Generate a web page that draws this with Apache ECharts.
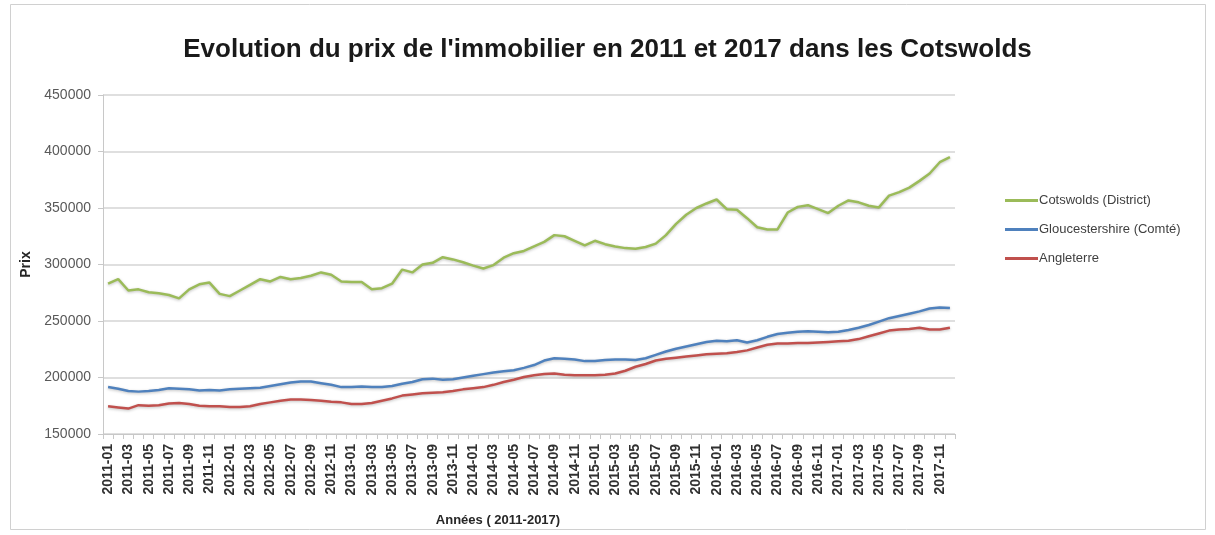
<!DOCTYPE html>
<html>
<head>
<meta charset="utf-8">
<script src="https://cdn.jsdelivr.net/npm/echarts@6/dist/echarts.min.js"></script>
<style>
  html, body { margin: 0; padding: 0; background: #ffffff; }
  #chart { width: 1215px; height: 535px; }
</style>
</head>
<body>
<div id="chart"></div>
<script>
// Monthly months 2011-01 .. 2017-12
const years = [2011, 2012, 2013, 2014, 2015, 2016, 2017];
const months = [];
years.forEach(function (y) {
  for (let m = 1; m <= 12; m++) months.push(y + '-' + (m < 10 ? '0' + m : m));
});

const cotswolds = [
  283000, 287000, 277000, 278000, 275500, 274500, 273000, 270000, 278000, 282500,
  284000, 274000, 272000, 277000, 282000, 287000, 285000, 289000, 287000, 288000,
  290000, 293000, 291000, 285000, 284500, 284500, 278000, 279000, 283000, 295500,
  293000, 300000, 301500, 306500, 304500, 302000, 299000, 296500, 299500, 306000,
  310000, 312000, 316000, 320000, 326000, 325000, 321000, 317000, 321000, 318000,
  316000, 314500, 314000, 315500, 318500, 326000, 336000, 344000, 350000, 354000,
  357500, 349000, 348500, 341000, 333000, 331000, 331000, 346000, 351000, 352500,
  349000, 345500, 352000, 356700, 355000, 352000, 350500, 361000, 364000, 368000,
  374000, 380500, 390500, 395000
];

const gloucestershire = [
  191500, 190000, 188000, 187500, 188000, 189000, 190500, 190000, 189500, 188500,
  189000, 188500, 189500, 190000, 190500, 191000, 192500, 194000, 195500, 196500,
  196500, 195000, 193500, 191500, 191500, 192000, 191500, 191500, 192500, 194500,
  196000, 198500, 199000, 198000, 198500, 200000, 201500, 203000, 204500, 205500,
  206500, 208500, 211000, 215000, 217000, 216500, 216000, 214500, 214500, 215500,
  216000, 216000, 215500, 217000, 220000, 223000, 225500, 227500, 229500, 231500,
  232500, 232000, 233000, 231000, 233000, 236000, 238500, 239500, 240500, 241000,
  240500, 240000, 240500, 242000, 244000, 246500, 249500, 252500, 254500, 256500,
  258500, 261000, 262000, 261500
];

const angleterre = [
  174500, 173500, 172500, 175500, 175000, 175500, 177000, 177500, 176500, 175000,
  174500, 174500, 174000, 174000, 174500, 176500, 178000, 179500, 180500, 180500,
  180000, 179500, 178500, 178000, 176500, 176500, 177500, 179500, 181500, 184000,
  185000, 186000, 186500, 187000, 188000, 189500, 190500, 191500, 193500, 196000,
  198000, 200500, 202000, 203000, 203500, 202500, 202000, 202000, 202000, 202500,
  203500, 206000, 209500, 212000, 215000, 216500, 217500, 218500, 219500, 220500,
  221000, 221500, 222500, 224000, 226500, 229000, 230000, 230000, 230500, 230500,
  231000, 231500, 232000, 232500, 234000, 236500, 239000, 241500, 242500, 243000,
  244000, 242500, 242500, 244000
];

const seriesNames = ['Cotswolds (District)', 'Gloucestershire (Comté)', 'Angleterre'];
const seriesColors = ['#9BBB59', '#4F81BD', '#C0504D'];
const seriesData = [cotswolds, gloucestershire, angleterre];

const chart = echarts.init(document.getElementById('chart'), null, { renderer: 'canvas' });

chart.setOption({
  backgroundColor: '#ffffff',
  animation: false,
  textStyle: { fontFamily: 'Liberation Sans, Arial, sans-serif' },
  title: {
    text: "Evolution du prix de l'immobilier en 2011 et 2017 dans les Cotswolds",
    left: 'center',
    top: 32,
    textStyle: { fontSize: 26, fontWeight: 'bold', color: '#1a1a1a', fontFamily: 'Liberation Sans, Arial, sans-serif' }
  },
  graphic: [{
    type: 'rect',
    shape: { x: 10.5, y: 4.5, width: 1195, height: 525 },
    style: { fill: 'none', stroke: '#d0d0d0', lineWidth: 1 },
    silent: true
  }],
  legend: {
    orient: 'vertical',
    left: 1000,
    top: 189,
    icon: 'rect',
    itemWidth: 33,
    itemHeight: 3,
    itemGap: 16,
    textStyle: { fontSize: 13, color: '#404040', padding: [0, 0, 0, -4] },
    data: seriesNames
  },
  grid: { left: 103, right: 260, top: 95, bottom: 101, containLabel: false },
  xAxis: {
    type: 'category',
    data: months,
    boundaryGap: true,
    name: 'Années ( 2011-2017)',
    nameLocation: 'middle',
    nameGap: 80,
    nameTextStyle: { fontSize: 13, fontWeight: 'bold', color: '#262626', padding: [0, 62, 0, 0] },
    axisLine: { show: true, lineStyle: { color: '#c8c8c8', width: 1 } },
    axisTick: { show: true, interval: 0, length: 5, lineStyle: { color: '#c8c8c8' } },
    axisLabel: {
      interval: 1,
      rotate: 90,
      fontSize: 14,
      fontWeight: 'bold',
      color: '#303030',
      margin: 10
    },
    splitLine: { show: false }
  },
  yAxis: {
    type: 'value',
    min: 150000,
    max: 450000,
    interval: 50000,
    name: 'Prix',
    nameLocation: 'middle',
    nameGap: 64,
    nameRotate: 90,
    nameTextStyle: { fontSize: 14, fontWeight: 'bold', color: '#262626' },
    axisLine: { show: true, lineStyle: { color: '#c8c8c8', width: 1 } },
    axisTick: { show: true, length: 5, lineStyle: { color: '#c8c8c8' } },
    axisLabel: {
      fontSize: 14,
      color: '#595959',
      margin: 12,
      formatter: function (v) { return String(v); }
    },
    splitLine: { show: true, lineStyle: { color: '#d4d4d4', width: 1.5 } }
  },
  series: seriesNames.map(function (name, i) {
    return {
      name: name,
      type: 'line',
      data: seriesData[i],
      symbol: 'none',
      smooth: false,
      color: seriesColors[i],
      lineStyle: {
        width: 2.5,
        color: seriesColors[i],
        shadowColor: 'rgba(0,0,0,0.25)',
        shadowBlur: 3,
        shadowOffsetY: 1
      },
      z: 3 - i
    };
  })
});
</script>
</body>
</html>
